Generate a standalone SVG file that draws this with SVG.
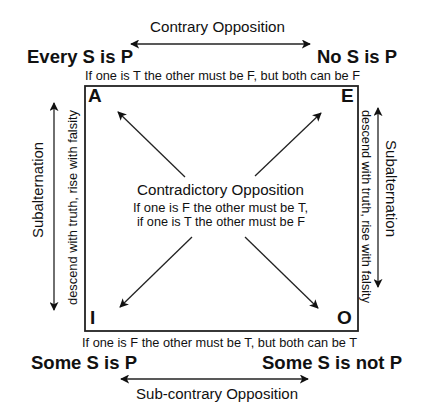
<svg xmlns="http://www.w3.org/2000/svg" width="447" height="414" viewBox="0 0 447 414">
<defs>
<marker id="ah" viewBox="0 0 10 10" refX="9" refY="5" markerWidth="9" markerHeight="9" markerUnits="userSpaceOnUse" orient="auto-start-reverse">
<path d="M0,0 L10,5 L0,10 L2.5,5 Z" fill="#111"/>
</marker>
<style>
.ln{stroke:#222;stroke-width:1.3;fill:none;marker-end:url(#ah)}
.dbl{marker-start:url(#ah)}
.t{font-family:"Liberation Sans",Arial,sans-serif;fill:#111}
.big{font-size:18px;font-weight:bold}
.lab{font-size:15.5px}
.sm{font-size:13.5px}
.ctr{font-size:12.5px}
.let{font-size:19px;font-weight:bold}
</style>
</defs>
<rect width="447" height="414" fill="#fff"/>
<g id="square">
<rect x="85" y="86" width="273" height="245" fill="none" stroke="#222" stroke-width="1.8"/>
</g>
<g id="connectors">
<line class="ln dbl" x1="131" y1="44" x2="310" y2="44"/>
<line class="ln dbl" x1="121" y1="379" x2="308" y2="379"/>
<line class="ln dbl" x1="54" y1="103" x2="54" y2="310"/>
<line class="ln dbl" x1="378" y1="108" x2="378" y2="287"/>
<line class="ln" x1="185" y1="177" x2="118" y2="112"/>
<line class="ln" x1="255" y1="176" x2="321" y2="113"/>
<line class="ln" x1="192" y1="237" x2="120" y2="307"/>
<line class="ln" x1="245" y1="237" x2="318" y2="308"/>
</g>
<g id="node-A">
<text class="t big" x="27" y="63" textLength="106" lengthAdjust="spacingAndGlyphs">Every S is P</text>
<text class="t let" x="88" y="102">A</text>
</g>
<g id="node-E">
<text class="t big" x="317" y="63" textLength="80" lengthAdjust="spacingAndGlyphs">No S is P</text>
<text class="t let" x="341" y="102">E</text>
</g>
<g id="node-I">
<text class="t big" x="31" y="369" textLength="106" lengthAdjust="spacingAndGlyphs">Some S is P</text>
<text class="t let" x="90" y="324">I</text>
</g>
<g id="node-O">
<text class="t big" x="262" y="369" textLength="140" lengthAdjust="spacingAndGlyphs">Some S is not P</text>
<text class="t let" x="337" y="324">O</text>
</g>
<g id="labels">
<text class="t lab" x="150" y="32" textLength="135" lengthAdjust="spacingAndGlyphs">Contrary Opposition</text>
<text class="t sm" x="85" y="80" textLength="275" lengthAdjust="spacingAndGlyphs">If one is T the other must be F, but both can be F</text>
<text class="t sm" x="82" y="347" textLength="275" lengthAdjust="spacingAndGlyphs">If one is F the other must be T, but both can be T</text>
<text class="t lab" x="136" y="399" textLength="162" lengthAdjust="spacingAndGlyphs">Sub-contrary Opposition</text>
<text class="t lab" x="137" y="195" textLength="167" lengthAdjust="spacingAndGlyphs">Contradictory Opposition</text>
<text class="t ctr" x="133" y="212" textLength="175" lengthAdjust="spacingAndGlyphs">If one is F the other must be T,</text>
<text class="t ctr" x="137" y="226" textLength="168" lengthAdjust="spacingAndGlyphs">if one is T the other must be F</text>
<text class="t lab" transform="translate(43,238) rotate(-90)" textLength="96" lengthAdjust="spacingAndGlyphs">Subalternation</text>
<text class="t sm" transform="translate(77,305) rotate(-90)" textLength="195" lengthAdjust="spacingAndGlyphs">descend with truth, rise with falsity</text>
<text class="t lab" transform="translate(386,140) rotate(90)" textLength="97" lengthAdjust="spacingAndGlyphs">Subalternation</text>
<text class="t sm" transform="translate(362,110) rotate(90)" textLength="193" lengthAdjust="spacingAndGlyphs">descend with truth, rise with falsity</text>
</g>
</svg>
